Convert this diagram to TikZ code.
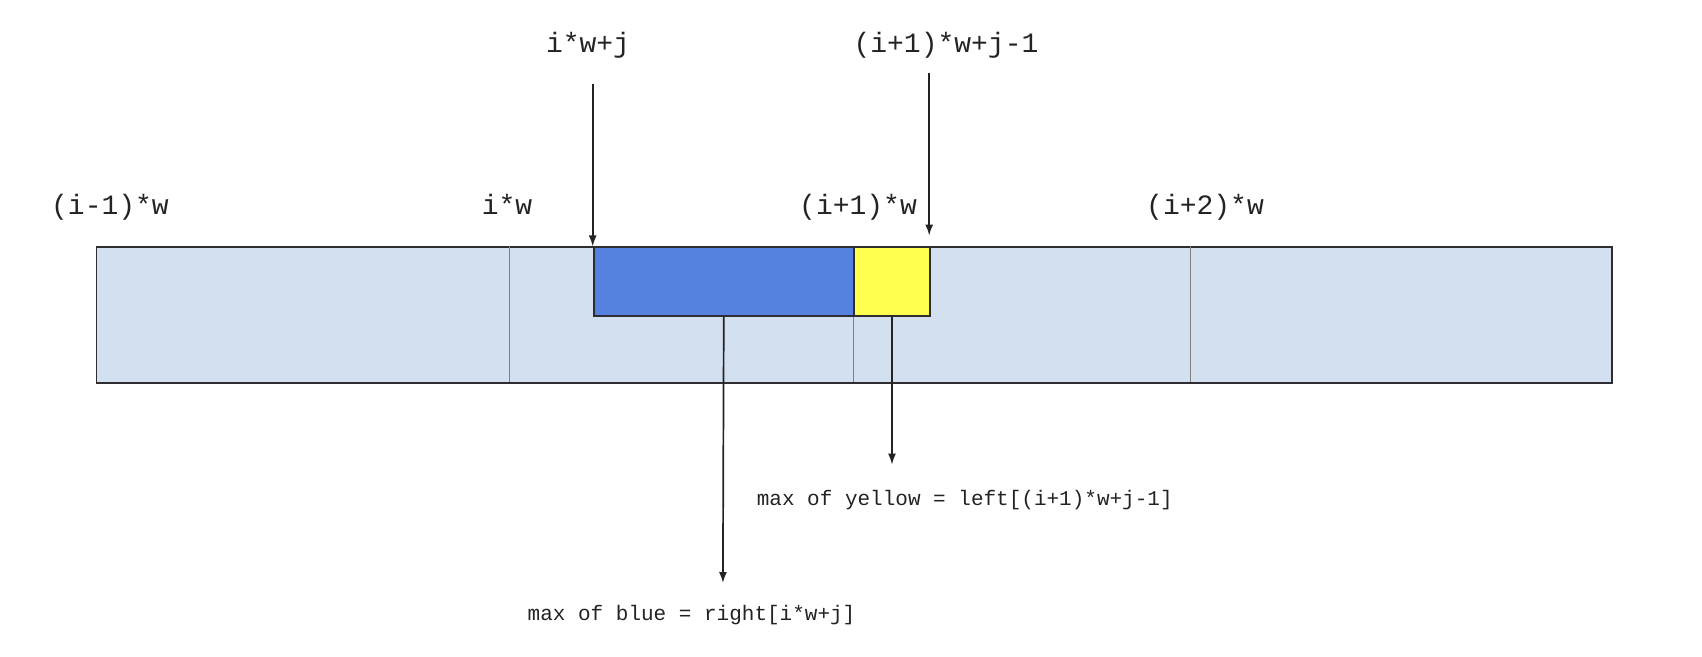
\documentclass[tikz,border=0pt]{standalone}
\usepackage{fontspec}
\newfontfamily\labelfont{Liberation Mono}
\usetikzlibrary{arrows.meta,positioning}

\definecolor{barfill}{RGB}{210,224,240}
\definecolor{bluefill}{RGB}{84,130,222}
\definecolor{yellowfill}{RGB}{255,255,80}
\definecolor{edge}{RGB}{45,45,50}
\definecolor{ink}{RGB}{35,35,35}

\begin{document}
\begin{tikzpicture}[x=1pt,y=-1pt,
	block/.style={rectangle,draw=edge,line width=1.8pt,inner sep=0pt,anchor=north west},
	idx label/.style={text=ink,inner sep=0pt,anchor=base,font=\labelfont\fontsize{28}{30}\selectfont},
	max label/.style={text=ink,inner sep=0pt,anchor=west,font=\labelfont\fontsize{21}{23}\selectfont},
	pointer/.style={-{Latex[length=11pt,width=8pt]},line width=1.7pt,draw=ink}
]
	\useasboundingbox (0,0) rectangle (1702,656);

	\def \top {246.4};
	\def \bot {382.1};

	% the row
	\node[block,fill=barfill,minimum width=1515.5pt,minimum height=135.7pt] at (95.5,\top) (row) {};
	\foreach \x in {509,853,1190} {
		\draw[gray,line width=0.8pt] (\x,\top) -- (\x,\bot);
	}

	% the two windows
	\node[block,fill=bluefill,minimum width=260.3pt,minimum height=68.4pt] at (592.7,\top) (blue) {};
	\node[block,fill=yellowfill,minimum width=76.2pt,minimum height=68.4pt] at (853,\top) (yellow) {};

	% block starts
	\node[idx label] at (110,214) (prev) {(i-1)*w};
	\node[idx label] at (507,214) (cur) {i*w};
	\node[idx label] at (858,214) (next) {(i+1)*w};
	\node[idx label] at (1205,214) (after) {(i+2)*w};

	% pointers into the row
	\node[idx label] at (588,52) (start) {i*w+j};
	\node[idx label] at (946,52) (stop) {(i+1)*w+j-1};
	\coordinate (startfrom) at (592.7,83.6);
	\coordinate (stopfrom) at (929.2,72.7);
	\coordinate (stopto) at (929.2,235.6);
	\draw[pointer] (startfrom) -- (blue.north west);
	\draw[pointer] (stopfrom) -- (stopto);

	% results
	\node[max label] at (756.6,500) (yellowmax) {max of yellow = left[(i+1)*w+j-1]};
	\node[max label] at (527.5,615.5) (bluemax) {max of blue = right[i*w+j]};
	\coordinate (yellowto) at (892,464.6);
	\coordinate (blueto) at (722.9,583);
	\draw[pointer] (yellow.south) -- (yellowto);
	\draw[pointer] (blue.south) -- (blueto);
\end{tikzpicture}
\end{document}
